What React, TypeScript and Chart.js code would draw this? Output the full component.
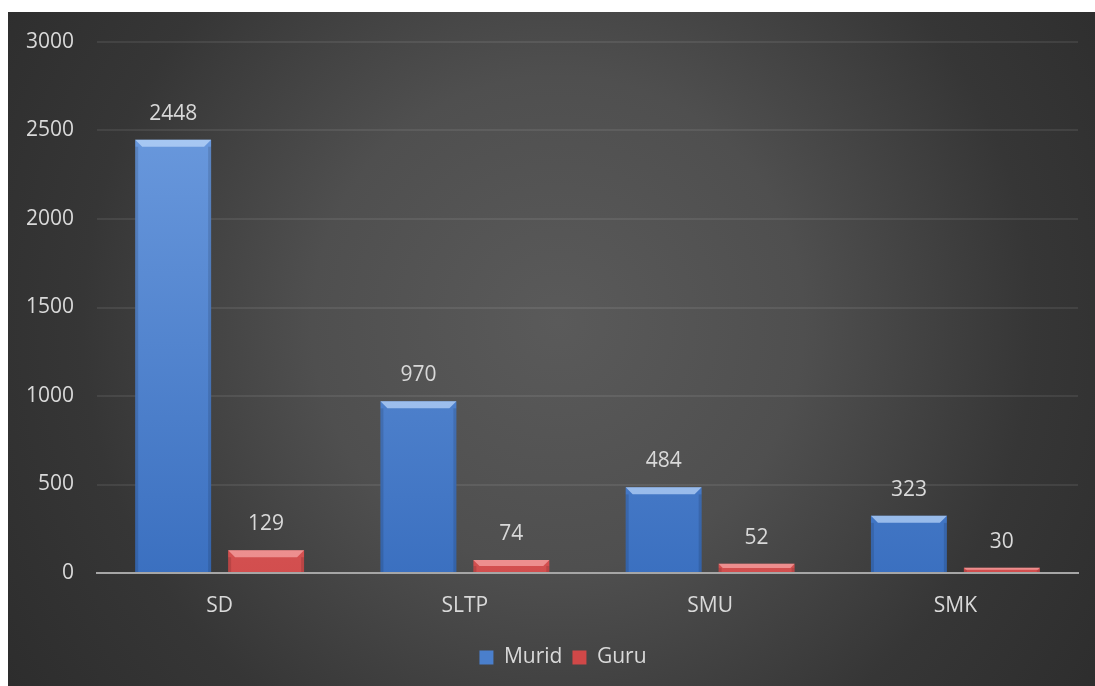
import React, { useEffect, useRef } from "react";
import { Chart, registerables } from "chart.js";

Chart.register(...registerables);

const categories = ["SD", "SLTP", "SMU", "SMK"];
const muridValues = [2448, 970, 484, 323];
const guruValues = [129, 74, 52, 30];
const seriesNames = ["Murid", "Guru"];
const yMax = 3000;
const yStep = 500;

const FONT = "'Open Sans', 'DejaVu Sans', sans-serif";
const TEXT = "#d9d9d9";
const FS = 21;

const bgPlugin = {
  id: "bgPlugin",
  beforeDraw(chart: any) {
    const { ctx, width, height } = chart;
    ctx.save();
    const g = ctx.createRadialGradient(550, 310, 0, 550, 310, 820);
    g.addColorStop(0, "#5a5a5a");
    g.addColorStop(0.3, "#4f4f4f");
    g.addColorStop(0.58, "#363636");
    g.addColorStop(1, "#252525");
    ctx.fillStyle = g;
    ctx.fillRect(0, 0, width, height);
    ctx.restore();
  },
};

const legendShift = {
  id: "legendShift",
  afterLayout(chart: any) {
    if (chart.legend) {
      chart.legend.left += 20;
      chart.legend.right += 20;
    }
  },
};

const bevelPlugin = {
  id: "bevelPlugin",
  afterDatasetsDraw(chart: any) {
    const { ctx } = chart;
    ctx.save();
    chart.data.datasets.forEach((ds: any, di: number) => {
      const meta = chart.getDatasetMeta(di);
      meta.data.forEach((el: any, i: number) => {
        const { x, y, base, width } = el.getProps(["x", "y", "base", "width"], true);
        const left = x - width / 2;
        const right = x + width / 2;
        const h = Math.min(7, (base - y) / 2);
        ctx.fillStyle = di === 0 ? "rgba(200,225,255,0.65)" : "rgba(255,185,185,0.6)";
        ctx.beginPath();
        ctx.moveTo(left, y);
        ctx.lineTo(right, y);
        ctx.lineTo(right - h, y + h);
        ctx.lineTo(left + h, y + h);
        ctx.closePath();
        ctx.fill();
        ctx.fillStyle = "rgba(0,0,0,0.12)";
        ctx.fillRect(left, y + h, 3, base - y - h);
        ctx.fillRect(right - 3, y + h, 3, base - y - h);
        ctx.fillStyle = TEXT;
        ctx.font = `${FS}px ${FONT}`;
        ctx.textAlign = "center";
        ctx.textBaseline = "middle";
        ctx.fillText(String(ds.data[i]), x, y - 26);
      });
    });
    ctx.restore();
  },
};

function makeGradient(chart: any, top: string, bottom: string) {
  const area = chart.chartArea;
  if (!area) return top;
  const g = chart.ctx.createLinearGradient(0, area.top, 0, area.bottom);
  g.addColorStop(0, top);
  g.addColorStop(1, bottom);
  return g;
}

export default function App() {
  const ref = useRef<HTMLCanvasElement>(null);
  useEffect(() => {
    if (!ref.current) return;
    const chart = new Chart(ref.current, {
      type: "bar",
      data: {
        labels: categories,
        datasets: [
          {
            label: seriesNames[0],
            data: muridValues,
            backgroundColor: (c: any) => makeGradient(c.chart, "#72a0e2", "#3b70c0"),
            categoryPercentage: 0.758,
            barPercentage: 0.817,
          },
          {
            label: seriesNames[1],
            data: guruValues,
            backgroundColor: (c: any) => makeGradient(c.chart, "#f07a7a", "#d24e4e"),
            categoryPercentage: 0.758,
            barPercentage: 0.817,
          },
        ],
      },
      options: {
        animation: false,
        responsive: false,
        maintainAspectRatio: false,
        layout: { padding: { top: 30, left: 0, right: 17, bottom: 8 } },
        plugins: {
          tooltip: { enabled: false },
          legend: {
            position: "bottom",
            labels: {
              color: TEXT,
              font: { family: FONT, size: FS },
              boxWidth: 14,
              boxHeight: 14,
              padding: 10,
              generateLabels: (ch: any) =>
                ch.data.datasets.map((d: any, i: number) => ({
                  text: d.label,
                  fillStyle: i === 0 ? "#4a7fcc" : "#d04848",
                  strokeStyle: "rgba(0,0,0,0)",
                  lineWidth: 0,
                  fontColor: TEXT,
                  datasetIndex: i,
                  hidden: false,
                })),
            },
          },
        },
        scales: {
          x: {
            grid: { display: false, drawTicks: false },
            border: { display: true, color: "#a6a6a6", width: 2 },
            ticks: { color: TEXT, font: { family: FONT, size: FS }, padding: 20 },
            afterFit: (s: any) => {
              s.height = 64;
            },
          },
          y: {
            min: 0,
            max: yMax,
            grid: { color: "rgba(255,255,255,0.08)", lineWidth: 2, drawTicks: false },
            border: { display: false },
            ticks: {
              stepSize: yStep,
              color: TEXT,
              font: { family: FONT, size: FS },
              padding: 23,
              callback: (v: any) => String(v),
            },
            afterFit: (s: any) => {
              s.width = 89;
              s.paddingTop = 0;
              s.paddingBottom = 0;
            },
          },
        },
      },
      plugins: [bgPlugin, legendShift, bevelPlugin],
    } as any);
    return () => chart.destroy();
  }, []);
  return (
    <div style={{ position: "absolute", left: 8, top: 12, width: 1087, height: 674 }}>
      <canvas ref={ref} width={1087} height={674} style={{ display: "block" }} />
    </div>
  );
}
